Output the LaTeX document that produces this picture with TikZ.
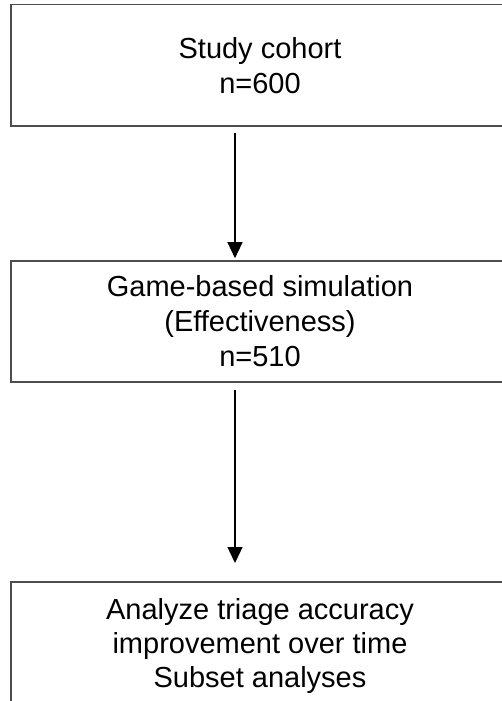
\documentclass[tikz,border=0pt]{standalone}
\usepackage{fontspec}
\setmainfont{Liberation Sans}
\usetikzlibrary{arrows.meta}
\definecolor{boxgray}{HTML}{4D4D4D}
\begin{document}
\begin{tikzpicture}[x=1pt,y=1pt,
  box/.style={draw=boxgray, line width=1.6pt, minimum width=498pt, inner sep=0pt,
    align=center, font=\fontsize{29}{35}\selectfont},
  txt/.style={align=center, inner sep=0pt, font=\fontsize{29}{34}\selectfont},
  flow/.style={line width=1.3pt, -{Triangle[width=15pt,length=16pt]}}]
\useasboundingbox (0,0) rectangle (502,-701);
\clip (0,0) rectangle (502,-701);
\node[box, minimum height=121.5pt] (b1) at (260,-65.25) {Study cohort\\n=600};
\node[box, minimum height=121pt] (b2) at (260,-321.5) {Game-based simulation\\(Effectiveness)\\n=510};
\node[box, minimum height=160pt, anchor=north] (b3) at (260,-581) {};
\node[txt, anchor=north] (t3) at (260,-598) {Analyze triage accuracy\\improvement over time\\Subset analyses};
\draw[flow] ([xshift=-25pt,yshift=-6pt]b1.south) -- ([xshift=-25pt,yshift=2pt]b2.north);
\draw[flow] ([xshift=-25pt,yshift=-7pt]b2.south) -- ([xshift=-25pt,yshift=18pt]b3.north);
\end{tikzpicture}
\end{document}
